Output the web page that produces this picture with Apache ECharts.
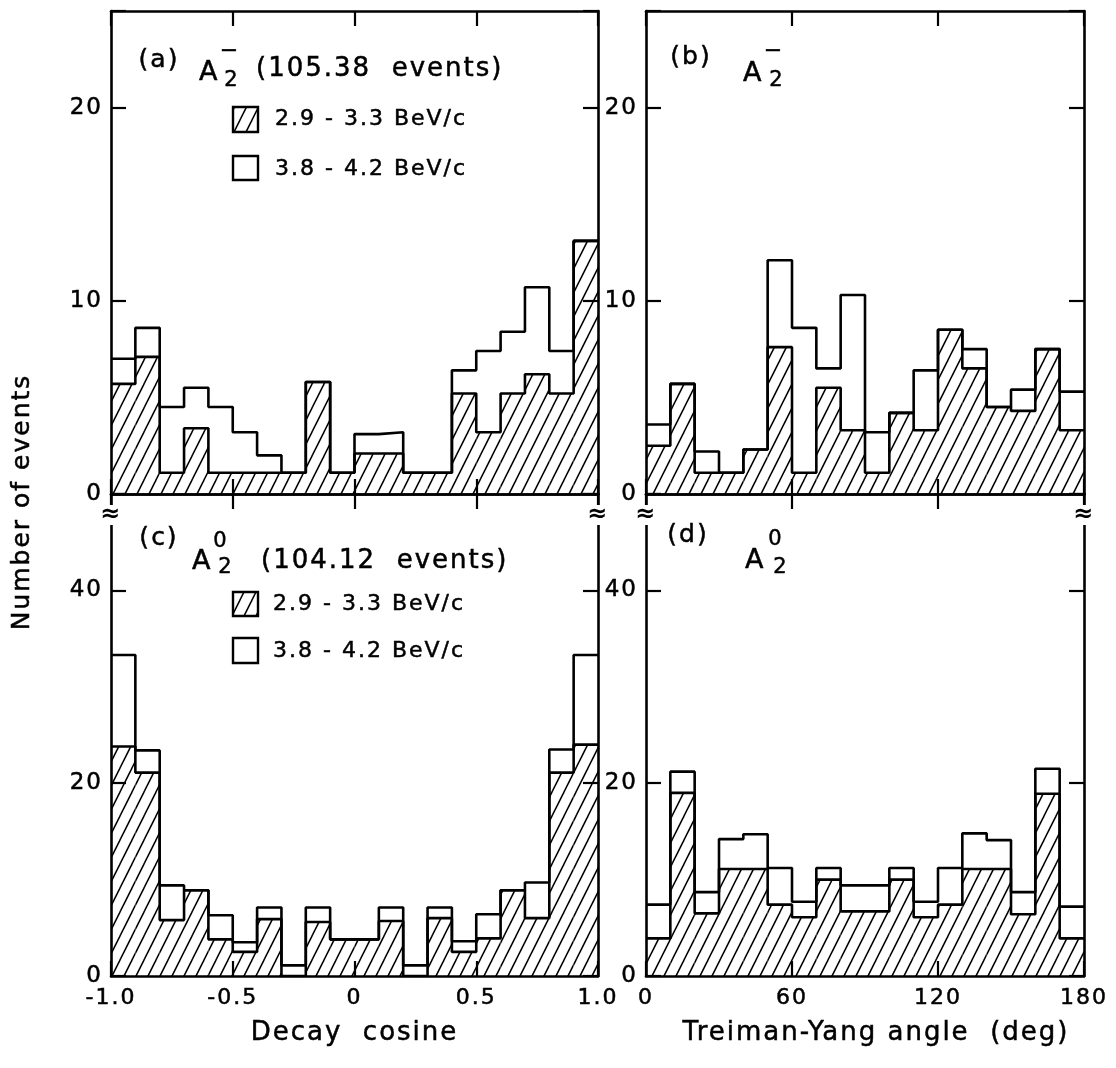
<!DOCTYPE html>
<html><head><meta charset="utf-8">
<script src="https://cdn.jsdelivr.net/npm/echarts@6/dist/echarts.min.js"></script>
<style>html,body{margin:0;padding:0;background:#fff}#chart{width:1116px;height:1068px}</style>
</head><body><div id="chart"></div>
<script>
// ---------- data ----------
const cosEdges = [-1.0,-0.9,-0.8,-0.7,-0.6,-0.5,-0.4,-0.3,-0.2,-0.1,0.0,0.1,0.2,0.3,0.4,0.5,0.6,0.7,0.8,0.9,1.0];
const angleEdges = [0,10,20,30,40,50,60,70,80,90,100,110,120,130,140,150,160,170,180];
const cosTickLabels = ['-1.0','-0.5','0','0.5','1.0'];
const angleTickLabels = ['0','60','120','180'];
const yTickLabelsTop = [0,10,20];
const yTickLabelsBottom = [0,20,40];

// (a) A2- decay cosine
const aHatched = [5.7,7.1,1.1,3.4,1.1,1.1,1.1,1.1,5.8,1.1,2.1,2.1,1.1,1.1,5.2,3.2,5.2,6.2,5.2,13.1];
const aTotal   = [7.0,8.6,4.5,5.5,4.5,3.2,2.0,1.1,5.8,1.1,3.1,3.2,1.1,1.1,6.4,7.4,8.4,10.7,7.4,13.1];
// (b) A2- Treiman-Yang angle
const bHatched = [2.5,5.7,1.1,1.1,2.3,7.6,1.1,5.5,3.3,1.1,4.2,3.3,8.5,6.5,4.5,4.3,7.5,3.3];
const bTotal   = [3.6,5.7,2.2,1.1,2.3,12.1,8.6,6.5,10.3,3.2,4.2,6.4,8.5,7.5,4.5,5.4,7.5,5.3];
// (c) A20 decay cosine
const cHatched = [23.8,21.1,5.8,8.9,3.8,2.5,5.9,0,5.6,3.8,3.8,5.7,0,6.0,2.5,3.9,8.9,6.0,21.1,24.0];
const cTotal   = [33.3,23.4,9.4,8.9,6.3,3.5,7.1,1.1,7.1,3.8,3.8,7.1,1.1,7.1,3.6,6.4,8.9,9.7,23.5,33.3];
// (d) A20 Treiman-Yang angle
const dHatched = [3.9,19.0,6.5,11.1,11.1,7.4,6.1,10.0,6.7,6.7,10.0,6.1,7.4,11.1,11.1,6.4,18.9,3.9];
const dTotal   = [7.4,21.2,8.7,14.2,14.7,11.2,7.7,11.2,9.4,9.4,11.2,7.7,11.2,14.8,14.1,8.7,21.5,7.2];

const legendLow = '2.9 - 3.3 BeV/c';
const legendHigh = '3.8 - 4.2 BeV/c';

// ---------- letter spacing (lettering look) ----------
const LETTER_SPACING = '2px';
(function(){
  const P = CanvasRenderingContext2D.prototype;
  if (!('letterSpacing' in P)) return;
  ['fillText','strokeText','measureText'].forEach(fn => {
    const orig = P[fn];
    P[fn] = function(){ this.letterSpacing = LETTER_SPACING; return orig.apply(this, arguments); };
  });
})();

const FONT = 'DejaVu Sans';
const TB = 0.5; // slight text thickening

function makeHatch(){
  const c = document.createElement('canvas'); c.width = 12; c.height = 24;
  const g = c.getContext('2d'); g.strokeStyle = '#000'; g.lineWidth = 1.5;
  [-12,0,12].forEach(dx => { g.beginPath(); g.moveTo(dx-1, 26); g.lineTo(dx+13, -2); g.stroke(); });
  return c;
}
const hatchPattern = {image: makeHatch(), repeat: 'repeat'};

const grids = [
  {left:111, top:11, width:487, height:483},
  {left:646, top:11, width:438, height:483},
  {left:111, top:494, width:487, height:482},
  {left:646, top:494, width:438, height:482}
];
const xCfg = [
  {min:-1, max:1, interval:0.5, labels:null},
  {min:0, max:180, interval:60, labels:null},
  {min:-1, max:1, interval:0.5, labels:cosTickLabels, name:'Decay  cosine'},
  {min:0, max:180, interval:60, labels:angleTickLabels, name:'Treiman-Yang angle  (deg)'}
];
const yCfg = [
  {max:25, interval:10, labels:yTickLabelsTop},
  {max:25, interval:10, labels:yTickLabelsTop},
  {max:50, interval:20, labels:yTickLabelsBottom},
  {max:50, interval:20, labels:yTickLabelsBottom}
];
const lineStyle = {color:'#000', width:2.6};
const tickStyle = {show:true, inside:true, length:15, lineStyle:{color:'#000', width:2.2}};

const xAxes = [], yAxes = [];
['bottom','top'].forEach(pos => {
  xCfg.forEach((c, gi) => {
    const showLabel = pos === 'bottom' && !!c.labels;
    xAxes.push({
      type:'value', gridIndex:gi, position:pos, min:c.min, max:c.max, interval:c.interval,
      axisLine:{show:true, onZero:false, lineStyle}, axisTick:tickStyle, splitLine:{show:false},
      axisLabel:{show:showLabel, color:'#000', fontSize:22, fontFamily:FONT, margin:10,
        textBorderColor:'#000', textBorderWidth:TB,
        formatter: v => c.labels ? (c.labels[Math.round((v - c.min)/c.interval)] || '') : ''},
      name: (pos === 'bottom' && c.name) ? c.name : '',
      nameLocation:'middle', nameGap:43,
      nameTextStyle:{color:'#000', fontSize:26, fontFamily:FONT, textBorderColor:'#000', textBorderWidth:TB,
        padding: gi === 3 ? [0,0,0,22] : 0}
    });
  });
});
['left','right'].forEach(pos => {
  yCfg.forEach((c, gi) => {
    yAxes.push({
      type:'value', gridIndex:gi, position:pos, min:0, max:c.max, interval:c.interval,
      axisLine:{show:true, onZero:false, lineStyle}, axisTick:tickStyle, splitLine:{show:false},
      axisLabel:{show:pos === 'left', color:'#000', fontSize:23, fontFamily:FONT, margin:8,
        textBorderColor:'#000', textBorderWidth:TB,
        formatter: v => c.labels.includes(v) ? String(v) : ''}
    });
  });
});

function hatchSeries(edges, vals, gi){
  return {
    type:'custom', name:legendLow, xAxisIndex:gi, yAxisIndex:gi, silent:true, z:1,
    data: vals.map((v,i) => [edges[i], edges[i+1], v]),
    renderItem: (p, api) => {
      const a = api.coord([api.value(0), api.value(2)]);
      const b = api.coord([api.value(1), 0]);
      return {type:'rect', shape:{x:a[0], y:a[1], width:b[0]-a[0], height:b[1]-a[1]},
              style:{fill:hatchPattern}};
    }
  };
}
function stepSeries(edges, vals, name, gi){
  return {
    type:'line', name, step:'end', xAxisIndex:gi, yAxisIndex:gi, symbol:'none', silent:true, z:3,
    data: edges.map((e,i) => [e, vals[Math.min(i, vals.length-1)]]),
    lineStyle:{color:'#000', width:2.6}
  };
}
const panels = [[cosEdges,aHatched,aTotal],[angleEdges,bHatched,bTotal],[cosEdges,cHatched,cTotal],[angleEdges,dHatched,dTotal]];
const series = [];
panels.forEach((p, gi) => {
  series.push(hatchSeries(p[0], p[1], gi));
  series.push(stepSeries(p[0], p[2], legendHigh, gi));
  series.push(stepSeries(p[0], p[1], legendLow, gi));
});

function txt(text, x, y, size, align){
  return {type:'text', x, y, z:10, style:{text, fill:'#000', stroke:'#000', lineWidth:TB, fontSize:size, fontFamily:FONT,
    align: align || 'left', verticalAlign:'middle'}};
}
const graphics = [
  {type:'text', x:22, y:502, rotation:Math.PI/2, z:10,
   style:{text:'Number of events', fill:'#000', stroke:'#000', lineWidth:TB, fontSize:25, fontFamily:FONT, align:'center', verticalAlign:'middle'}},
  // (a)
  txt('(a)', 159, 60, 25, 'center'),
  txt('A', 199, 73, 27), txt('−', 230, 51, 22, 'center'), txt('2', 232, 81, 21, 'center'),
  txt('(105.38  events)', 256, 69, 26),
  {type:'rect', shape:{x:233, y:107, width:25, height:25}, z:10, style:{fill:hatchPattern, stroke:'#000', lineWidth:2.4}},
  txt(legendLow, 275, 119, 22),
  {type:'rect', shape:{x:233, y:156, width:25, height:24}, z:10, style:{fill:'#fff', stroke:'#000', lineWidth:2.4}},
  txt(legendHigh, 275, 169, 22),
  // (b)
  txt('(b)', 691, 57, 25, 'center'),
  txt('A', 743, 74, 27), txt('−', 774, 51, 22, 'center'), txt('2', 777, 81, 21, 'center'),
  // (c)
  txt('(c)', 159, 538, 25, 'center'),
  txt('A', 192, 562, 27), txt('0', 221, 542, 21, 'center'), txt('2', 226, 568, 21, 'center'),
  txt('(104.12  events)', 261, 561, 26),
  {type:'rect', shape:{x:233, y:592, width:25, height:24}, z:10, style:{fill:hatchPattern, stroke:'#000', lineWidth:2.4}},
  txt(legendLow, 273, 604, 22),
  {type:'rect', shape:{x:233, y:638, width:25, height:25}, z:10, style:{fill:'#fff', stroke:'#000', lineWidth:2.4}},
  txt(legendHigh, 273, 651, 22),
  // (d)
  txt('(d)', 688, 535, 25, 'center'),
  txt('A', 745, 561, 27), txt('0', 776, 540, 21, 'center'), txt('2', 781, 568, 21, 'center')
];
// axis-break marks
[111, 598, 646, 1084].forEach(x => {
  graphics.push({type:'rect', shape:{x:x-5, y:505, width:10, height:20}, z:11, style:{fill:'#fff'}});
  graphics.push({type:'text', x, y:515, z:12, style:{text:'≈', fill:'#000', fontSize:24, fontWeight:'bold', fontFamily:FONT, align:'center', verticalAlign:'middle'}});
});

const chart = echarts.init(document.getElementById('chart'), null, {renderer:'canvas'});
chart.setOption({
  animation:false,
  backgroundColor:'#fff',
  textStyle:{fontFamily:FONT, color:'#000'},
  grid: grids,
  xAxis: xAxes,
  yAxis: yAxes,
  series,
  graphic: graphics
});
</script></body></html>
